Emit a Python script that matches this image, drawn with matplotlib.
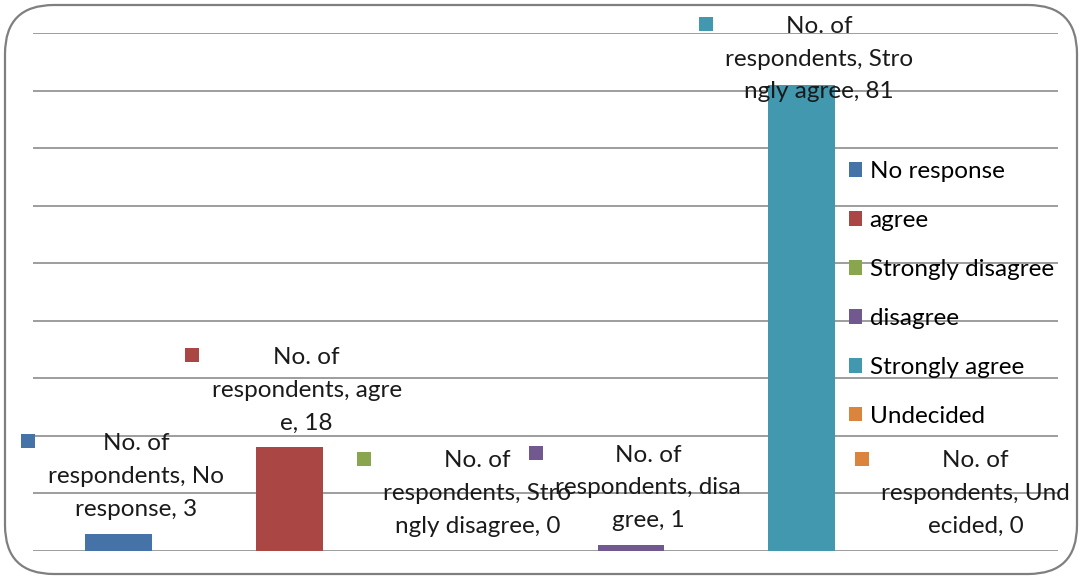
import matplotlib.pyplot as plt
from matplotlib.patches import FancyBboxPatch, Rectangle
from matplotlib.offsetbox import AnnotationBbox, HPacker, TextArea, DrawingArea

plt.rcParams["font.family"] = ["Lato", "DejaVu Sans"]

categories = ["No response", "agree", "Strongly disagree", "disagree",
              "Strongly agree", "Undecided"]
respondents = [3, 18, 0, 1, 81, 0]
bar_colors = ["#4572A7", "#AA4643", "#89A54E", "#71588F", "#4198AF", "#DB843D"]
# data labels as Excel wrapped them
label_text = [
    "No. of\nrespondents, No\nresponse, 3",
    "No. of\nrespondents, agre\ne, 18",
    "No. of\nrespondents, Stro\nngly disagree, 0",
    "No. of\nrespondents, disa\ngree, 1",
    "No. of\nrespondents, Stro\nngly agree, 81",
    "No. of\nrespondents, Und\necided, 0",
]

W, H = 1085, 578
fig = plt.figure(figsize=(W / 100, H / 100), dpi=100)
ax = fig.add_axes([33 / W, 27 / H, 1025 / W, 518 / H])

x = range(len(categories))
bars = ax.bar(x, respondents, width=0.39, color=bar_colors, zorder=2)
for b, name in zip(bars, categories):
    b.set_label(name)

ax.set_xlim(-0.5, len(categories) - 0.5)
ax.set_ylim(0, 90)
ax.set_yticks(range(0, 91, 10))
ax.yaxis.grid(True, color="#8c8c8c", lw=1.2, zorder=1)
ax.set_axisbelow(True)
ax.tick_params(left=False, bottom=False, labelleft=False, labelbottom=False)
for s in ax.spines.values():
    s.set_visible(False)

fsize = 17.5
labels = []
for i, (v, txt, c) in enumerate(zip(respondents, label_text, bar_colors)):
    key = DrawingArea(10, 22, 0, 0)
    key.add_artist(Rectangle((0, 11), 10, 10, facecolor=c, edgecolor="none"))
    ta = TextArea(txt, textprops=dict(fontsize=fsize, color="#1a1a1a",
                                      multialignment="center", linespacing=1.7))
    box = HPacker(children=[key, ta], align="top", pad=0, sep=9)
    if v > 0.6 * 90:
        ab = AnnotationBbox(box, (i, 1.0), xycoords=("data", "axes fraction"),
                            xybox=(3, 12.5), boxcoords="offset points",
                            box_alignment=(0.5, 1), frameon=False, pad=0)
    else:
        ab = AnnotationBbox(box, (i, v), xycoords="data",
                            xybox=(3, 10), boxcoords="offset points",
                            box_alignment=(0.5, 0), frameon=False, pad=0)
    ab.set_zorder(3)
    ax.add_artist(ab)
    labels.append(ab)

# keep labels inside the chart area, like Excel does
fig.canvas.draw()
right_px = 1070
for ab in labels:
    bb = ab.get_window_extent()
    if bb.x1 > right_px:
        dx, dy = ab.xybox
        ab.xybox = (dx - (bb.x1 - right_px) * 72 / 100, dy)

leg = ax.legend(loc="upper left", bbox_to_anchor=(849 / W, 1 - 161 / H),
                bbox_transform=fig.transFigure, frameon=False, fontsize=fsize,
                handlelength=0.55, handleheight=0.55, handletextpad=0.3,
                labelspacing=1.15, borderpad=0, borderaxespad=0)

border = FancyBboxPatch((5 / W, 4 / H), 1072 / W, 569 / H,
                        boxstyle="round,pad=0,rounding_size=0.045",
                        transform=fig.transFigure, facecolor="none",
                        edgecolor="#7f7f7f", lw=1.6, mutation_aspect=W / H)
fig.patches.append(border)

fig.savefig("out.png", dpi=100)
